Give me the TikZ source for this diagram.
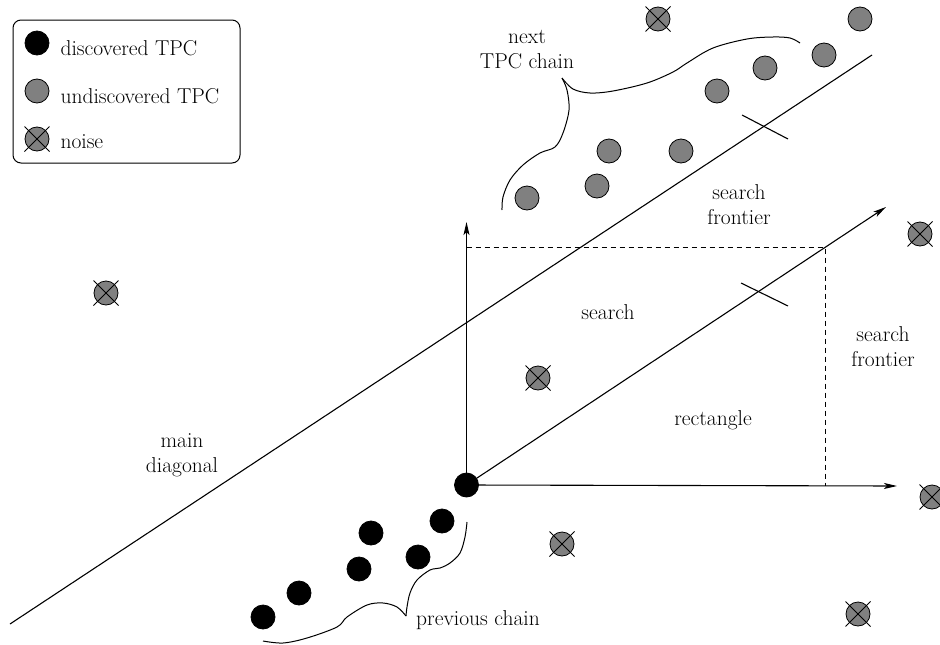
\documentclass[tikz,border=0pt]{standalone}
\usetikzlibrary{arrows.meta}
\begin{document}
\begin{tikzpicture}[x=1pt,y=-1pt,
  line width=1.1pt,
  lbl/.style={font=\fontsize{21.5}{25}\selectfont, align=center, inner sep=0pt},
  disc/.style={circle, fill=black, draw=black, line width=0.8pt, minimum size=24pt, inner sep=0pt},
  undisc/.style={circle, fill=gray, draw=black, line width=0.8pt, minimum size=24pt, inner sep=0pt},
  noisedot/.style={circle, fill=gray, draw=black, line width=0.8pt, minimum size=24pt, inner sep=0pt},
  axis/.style={-{Stealth[length=13pt,width=6pt,inset=3pt]}},
  brace/.style={line width=1pt}
]
\useasboundingbox (0,0) rectangle (940,645);

% legend
\draw[line width=1pt, rounded corners=8pt] (13,20) rectangle (240,163);
\node[disc] (ld) at (37,43) {};
\node[undisc] (lu) at (37,91) {};
\node[noisedot] (ln) at (37,139) {};
\node[lbl, anchor=base west] (ltd) at (60,55) {discovered TPC};
\node[lbl, anchor=base west] (ltu) at (60,103) {undiscovered TPC};
\node[lbl, anchor=base west] (ltn) at (60,148) {noise};

% main diagonal
\coordinate (md1) at (10,624);
\coordinate (md2) at (872,55);
\draw (md1) -- (md2);
\coordinate (t1a) at (742,115);
\coordinate (t1b) at (788,139);
\draw (t1a) -- (t1b);

% axes
\coordinate (O) at (466.5,485);
\coordinate (ytip) at (466.5,222);
\coordinate (xtip) at (897,486);
\coordinate (dtip) at (886,207);
\coordinate (R1) at (466.5,247);
\coordinate (R2) at (825,247);
\coordinate (R3) at (825,486);
\draw[dashed, line width=0.9pt, dash pattern=on 5pt off 4pt] (R1) -- (R2) -- (R3);
\draw[axis] (O) -- (ytip);
\draw[axis] (O) -- (xtip);
\draw[axis] (O) -- (dtip);
\coordinate (t2a) at (741,283);
\coordinate (t2b) at (788,306);
\draw (t2a) -- (t2b);

% undiscovered chain
\foreach \n/\x/\y in {u1/527/198, u2/597/186, u3/609/151, u4/681/151, u5/717/91, u6/765/68, u7/824/55, u8/860/19}
  \node[undisc] (\n) at (\x,\y) {};

% discovered chain
\node[disc] (d0) at (O) {};
\foreach \n/\x/\y in {d1/442/521, d2/418/557, d3/371/533, d4/359/569, d5/299/593, d6/263/617}
  \node[disc] (\n) at (\x,\y) {};

% noise
\foreach \n/\x/\y in {n1/658/19, n2/106/293, n3/538/378, n4/920/234, n5/932/497, n6/562/544, n7/858/614}
  \node[noisedot] (\n) at (\x,\y) {};
\foreach \n in {ln,n1,n2,n3,n4,n5,n6,n7}
  \draw[line width=0.8pt] (\n.center) ++(-12.5,-12.5) -- ++(25,25) ++(0,-25) -- ++(-25,25);

% braces
\draw[brace] plot[smooth, tension=0.55] coordinates {(800,43) (790,38) (773,37) (747,39) (713,48) (687,63) (673,72) (647,83) (613,91) (590,93) (573,89) (562,78)};
\draw[brace] plot[smooth, tension=0.55] coordinates {(562,78) (567,90) (569,110) (563,133) (555,147) (540,153) (523,165) (510,180) (503,197) (502,210)};
\draw[brace] plot[smooth, tension=0.55] coordinates {(467,522) (465,537) (460,553) (450,563) (440,568) (430,570) (417,580) (410,593) (407,607) (406,616)};
\draw[brace] plot[smooth, tension=0.55] coordinates {(406,616) (397,607) (383,603) (367,605) (347,617) (337,627) (307,638) (283,643) (263,641)};

% labels
\node[lbl] (lnext) at (527,50) {next\\TPC chain};
\node[lbl] (lsf1) at (739,205) {search\\frontier};
\node[lbl] (lsf2) at (883,347) {search\\frontier};
\node[lbl] (lsearch) at (608,312) {search};
\node[lbl] (lrect) at (713,420) {rectangle};
\node[lbl] (lmain) at (182,455) {main\\diagonal};
\node[lbl] (lprev) at (478,620) {previous chain};
\end{tikzpicture}
\end{document}
